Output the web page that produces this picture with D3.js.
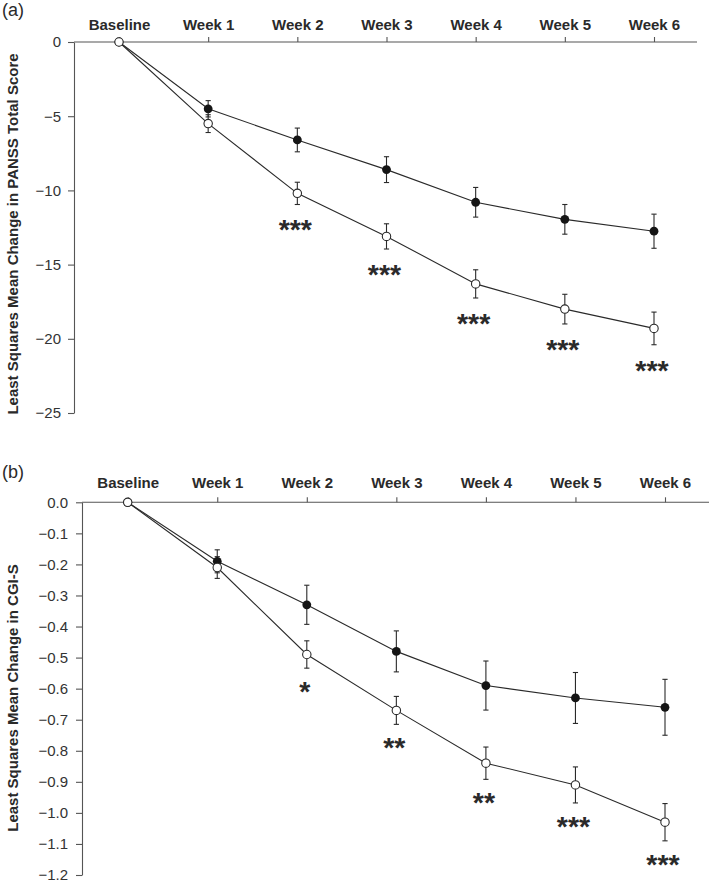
<!DOCTYPE html>
<html>
<head>
<meta charset="utf-8">
<script src="https://cdn.jsdelivr.net/npm/d3@7"></script>
<style>
  html, body { margin: 0; padding: 0; background: #fff; }
  svg { display: block; }
  text { font-family: "Liberation Sans", Arial, Helvetica, sans-serif; }
</style>
</head>
<body>
<svg id="chart" width="709" height="883"></svg>
<script>
// ---------- DATA ----------
const categories = ["Baseline", "Week 1", "Week 2", "Week 3", "Week 4", "Week 5", "Week 6"];

// Panel (a): PANSS total score
const panssOpen      = [0, -5.5, -10.2, -13.1, -16.3, -18.0, -19.3];
const panssOpenErr   = [0, 0.6, 0.75, 0.85, 0.95, 1.0, 1.1];
const panssFilled    = [0, -4.5, -6.6, -8.6, -10.8, -11.95, -12.75];
const panssFilledErr = [0, 0.55, 0.8, 0.87, 1.0, 1.0, 1.15];
const panssSig       = ["", "", "***", "***", "***", "***", "***"];
const panssTicks     = [0, -5, -10, -15, -20, -25];

// Panel (b): CGI-S
const cgiOpen      = [0, -0.21, -0.49, -0.67, -0.84, -0.91, -1.03];
const cgiOpenErr   = [0, 0.035, 0.044, 0.045, 0.052, 0.058, 0.06];
const cgiFilled    = [0, -0.19, -0.33, -0.48, -0.59, -0.63, -0.66];
const cgiFilledErr = [0, 0.037, 0.063, 0.066, 0.079, 0.082, 0.09];
const cgiSig       = ["", "", "*", "**", "**", "***", "***"];
const cgiTicks     = [0, -0.1, -0.2, -0.3, -0.4, -0.5, -0.6, -0.7, -0.8, -0.9, -1.0, -1.1, -1.2];

// ---------- DRAW ----------
const svg = d3.select("#chart");
const INK = "#2a2a2a";
const AX = "#555";

function drawPanel(cfg) {
  const x = d3.scalePoint().domain(categories).range([cfg.xFirst, cfg.xLast]).padding(0);
  const y = d3.scaleLinear().domain([cfg.yMin, 0]).range([cfg.yBottom, cfg.yTop]);
  const g = svg.append("g");

  // panel letter
  g.append("text").attr("x", 2).attr("y", cfg.letterY)
    .attr("font-size", 18).attr("fill", INK).text(cfg.letter);

  // y axis
  const ya = g.append("g").attr("transform", `translate(${cfg.axisX},0)`)
    .call(d3.axisLeft(y).tickValues(cfg.ticks).tickFormat(cfg.fmt)
      .tickSize(6).tickSizeOuter(0).tickPadding(cfg.yPad));
  ya.selectAll("path, line").attr("stroke", AX).attr("stroke-width", 1.1);
  ya.selectAll("text").attr("font-size", 15).attr("fill", "#333")
    .attr("font-family", '"Liberation Sans", Arial, sans-serif');

  // x axis (top)
  const xa = g.append("g").attr("transform", `translate(0,${y(0)})`)
    .call(d3.axisTop(x).tickSize(5).tickSizeOuter(0).tickPadding(cfg.xPad));
  xa.select(".domain").remove();
  xa.selectAll("line").attr("stroke", AX).attr("stroke-width", 1.1);
  xa.selectAll("text").attr("font-size", 15).attr("font-weight", "bold").attr("fill", INK)
    .attr("font-family", '"Liberation Sans", Arial, sans-serif');
  g.append("line").attr("x1", cfg.axisX).attr("x2", cfg.xEnd)
    .attr("y1", y(0)).attr("y2", y(0)).attr("stroke", AX).attr("stroke-width", 1.1);

  // y title
  g.append("text")
    .attr("transform", `translate(${cfg.titleX},${cfg.titleY}) rotate(-90)`)
    .attr("text-anchor", "middle").attr("dominant-baseline", "central")
    .attr("font-size", 15).attr("font-weight", "bold").attr("fill", INK)
    .text(cfg.title);

  const line = d3.line().x((d, i) => x(categories[i])).y(d => y(d));
  [cfg.filled, cfg.open].forEach(vals => {
    g.append("path").datum(vals).attr("d", line)
      .attr("fill", "none").attr("stroke", INK).attr("stroke-width", 1.1);
  });

  // error bars
  const cap = 2.6;
  [[cfg.filled, cfg.filledErr], [cfg.open, cfg.openErr]].forEach(([vals, errs]) => {
    vals.forEach((v, i) => {
      const e = errs[i];
      if (!e) return;
      const cx = x(categories[i]);
      const y1 = y(v + e), y2 = y(v - e);
      g.append("line").attr("x1", cx).attr("x2", cx).attr("y1", y1).attr("y2", y2)
        .attr("stroke", INK).attr("stroke-width", 1.1);
      [y1, y2].forEach(yy => g.append("line").attr("x1", cx - cap).attr("x2", cx + cap)
        .attr("y1", yy).attr("y2", yy).attr("stroke", INK).attr("stroke-width", 1.1));
    });
  });

  // markers
  g.selectAll(null).data(cfg.filled).enter().append("circle")
    .attr("cx", (d, i) => x(categories[i])).attr("cy", d => y(d))
    .attr("r", 4.4).attr("fill", "#151515");
  g.selectAll(null).data(cfg.open).enter().append("circle")
    .attr("cx", (d, i) => x(categories[i])).attr("cy", d => y(d))
    .attr("r", 4.2).attr("fill", "#fff").attr("stroke", INK).attr("stroke-width", 1.1);

  // significance stars
  cfg.sig.forEach((s, i) => {
    if (!s) return;
    const cy = y(cfg.open[i] - cfg.openErr[i]) + cfg.starGap;
    g.append("text").attr("x", x(categories[i]) - 2).attr("y", cy + 16)
      .attr("text-anchor", "middle").attr("font-size", 28.5).attr("font-weight", "bold")
      .attr("fill", INK).text(s);
  });
}

drawPanel({
  letter: "(a)", letterY: 16,
  xFirst: 119, xLast: 654, axisX: 74, xEnd: 697,
  yMin: -25, yTop: 42, yBottom: 413,
  ticks: panssTicks, fmt: d3.format("d"), yPad: 7, xPad: 7,
  title: "Least Squares Mean Change in PANSS Total Score", titleX: 12, titleY: 234,
  open: panssOpen, openErr: panssOpenErr, filled: panssFilled, filledErr: panssFilledErr,
  sig: panssSig, starGap: 19
});

drawPanel({
  letter: "(b)", letterY: 478,
  xFirst: 127.7, xLast: 665, axisX: 82, xEnd: 709,
  yMin: -1.2, yTop: 502.3, yBottom: 875,
  ticks: cgiTicks, fmt: d3.format(".1f"), yPad: 8, xPad: 9,
  title: "Least Squares Mean Change in CGI-S", titleX: 12, titleY: 698,
  open: cgiOpen, openErr: cgiOpenErr, filled: cgiFilled, filledErr: cgiFilledErr,
  sig: cgiSig, starGap: 17
});
</script>
</body>
</html>
